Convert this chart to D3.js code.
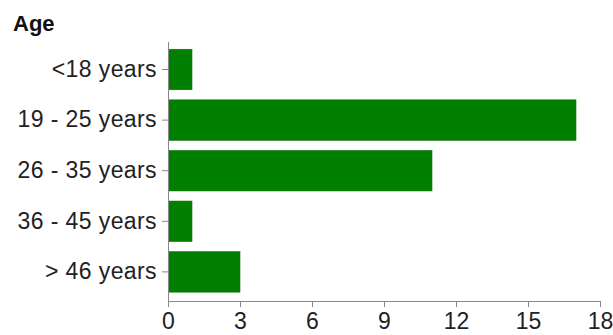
<!DOCTYPE html>
<html>
<head>
<meta charset="utf-8">
<script src="https://cdn.jsdelivr.net/npm/d3@7"></script>
<style>
  body { margin: 0; background: #fff; }
  text { font-family: "Liberation Sans", Arial, sans-serif; }
</style>
</head>
<body>
<svg id="chart" width="613" height="335"></svg>
<script>
var categories = ["<18 years", "19 - 25 years", "26 - 35 years", "36 - 45 years", "> 46 years"];
var counts = [1, 17, 11, 1, 3];
var xTicks = [0, 3, 6, 9, 12, 15, 18];

var svg = d3.select("#chart");

var x = d3.scaleLinear().domain([0, 18]).range([168, 600]);
var y = d3.scaleBand()
    .domain(categories)
    .range([44.2, 297.2])
    .paddingInner(0.2)
    .paddingOuter(0.1);

svg.append("text")
    .attr("x", 13)
    .attr("y", 31)
    .attr("font-size", 22)
    .attr("font-weight", "bold")
    .attr("fill", "#111")
    .text("Age");

svg.selectAll(".bar")
    .data(counts)
    .enter()
    .append("rect")
    .attr("class", "bar")
    .attr("x", x(0) + 0.5)
    .attr("y", function(d, i) { return y(categories[i]); })
    .attr("width", function(d) { return x(d) - x(0) - 0.5; })
    .attr("height", y.bandwidth())
    .attr("fill", "#007f00")
    .attr("stroke", "#0a6e0a")
    .attr("stroke-width", 0.6);

// y axis
var yAxis = svg.append("g")
    .attr("transform", "translate(" + x(0) + ",0)")
    .call(d3.axisLeft(y).tickSize(6).tickSizeOuter(0).tickPadding(5));
yAxis.select(".domain").attr("d", "M0.5,42V301");

// x axis
var xAxis = svg.append("g")
    .attr("transform", "translate(0,301)")
    .call(d3.axisBottom(x).tickValues(xTicks).tickSize(6).tickSizeOuter(0).tickPadding(6));

svg.selectAll(".domain, .tick line").attr("stroke", "#888");
svg.selectAll(".tick text")
    .attr("font-size", 23)
    .attr("fill", "#222")
    .style("font-family", "'Liberation Sans', Arial, sans-serif");
yAxis.selectAll(".tick text").attr("letter-spacing", 0.4);
</script>
</body>
</html>
